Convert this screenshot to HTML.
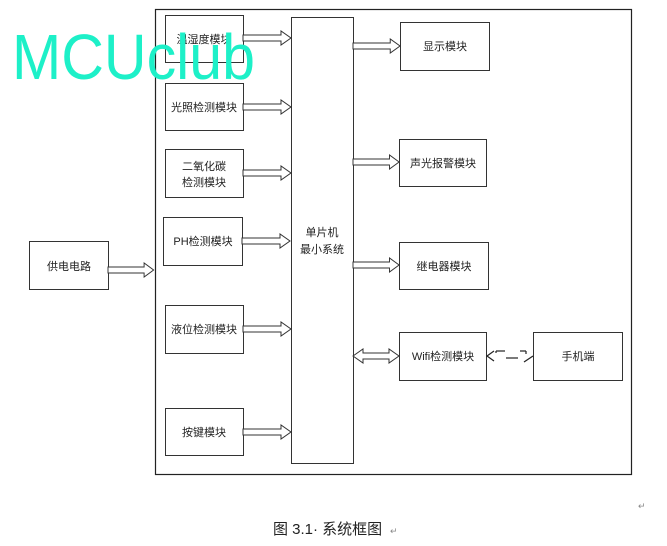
<!DOCTYPE html>
<html><head><meta charset="utf-8"><style>
body{margin:0;background:#fff;width:667px;height:541px;overflow:hidden}
svg text{font-family:"Liberation Sans","Noto Sans CJK SC",sans-serif;font-size:11px;fill:#222}
</style></head><body>
<svg width="667" height="541" viewBox="0 0 667 541">
<defs>
<g id="ar"><polygon points="0,-3 38,-3 38,-7 48,0 38,7 38,3 0,3" fill="#fff" stroke="#333" stroke-width="1"/></g>
</defs>
<rect x="155.5" y="9.5" width="476" height="465" fill="none" stroke="#222" stroke-width="1.2"/>
<rect x="291.5" y="17.5" width="62" height="446" fill="#fff" stroke="#333"/>
<g fill="#fff" stroke="#333">
<rect x="165.5" y="15.5" width="78" height="47"/>
<rect x="165.5" y="83.5" width="78" height="47"/>
<rect x="165.5" y="149.5" width="78" height="48"/>
<rect x="163.5" y="217.5" width="79" height="48"/>
<rect x="165.5" y="305.5" width="78" height="48"/>
<rect x="165.5" y="408.5" width="78" height="47"/>
<rect x="29.5" y="241.5" width="79" height="48"/>
<rect x="400.5" y="22.5" width="89" height="48"/>
<rect x="399.5" y="139.5" width="87" height="47"/>
<rect x="399.5" y="242.5" width="89" height="47"/>
<rect x="399.5" y="332.5" width="87" height="48"/>
<rect x="533.5" y="332.5" width="89" height="48"/>
</g>
<use href="#ar" transform="translate(243,38) scale(1,1)"/>
<use href="#ar" transform="translate(243,107)"/>
<use href="#ar" transform="translate(243,173)"/>
<use href="#ar" transform="translate(242,241)"/>
<use href="#ar" transform="translate(243,329)"/>
<use href="#ar" transform="translate(243,432)"/>
<use href="#ar" transform="translate(108,270) scale(0.95,1)"/>
<use href="#ar" transform="translate(353,46) scale(0.98,1)"/>
<use href="#ar" transform="translate(353,162) scale(0.96,1)"/>
<use href="#ar" transform="translate(353,265) scale(0.96,1)"/>
<polygon points="353,356 363,349 363,353 389,353 389,349 399,356 389,363 389,359 363,359 363,363" fill="#fff" stroke="#333"/>
<g stroke="#222" fill="none" stroke-width="1.2">
<polyline points="494,351 487,356 494,361"/>
<line x1="496" y1="351" x2="505" y2="351"/><line x1="496" y1="351" x2="496" y2="353"/>
<line x1="506" y1="358" x2="518" y2="358"/>
<line x1="520" y1="351" x2="526" y2="351"/><line x1="526" y1="351" x2="526" y2="354"/>
<polyline points="524,362 533,356"/>
</g>
<g text-anchor="middle">
<text x="204" y="43">温湿度模块</text>
<text x="204" y="111">光照检测模块</text>
<text x="204" y="170">二氧化碳</text>
<text x="204" y="186">检测模块</text>
<text x="203" y="245">PH检测模块</text>
<text x="204" y="333">液位检测模块</text>
<text x="204" y="436">按键模块</text>
<text x="69" y="270">供电电路</text>
<text x="322" y="236">单片机</text>
<text x="322" y="253">最小系统</text>
<text x="445" y="50">显示模块</text>
<text x="443" y="167">声光报警模块</text>
<text x="444" y="270">继电器模块</text>
<text x="443" y="360">Wifi检测模块</text>
<text x="578" y="360">手机端</text>
</g>
<text x="12" y="79" textLength="243" lengthAdjust="spacingAndGlyphs" style="font-size:64px;fill:#1df0c8;font-family:'Liberation Sans',sans-serif">MCUclub</text>
<text x="273" y="534" style="font-size:15px;fill:#222">图 3.1· 系统框图</text>
<text x="390" y="534" style="font-size:9px;fill:#888">↵</text>
<text x="638" y="509" style="font-size:9px;fill:#888">↵</text>
</svg>
</body></html>
